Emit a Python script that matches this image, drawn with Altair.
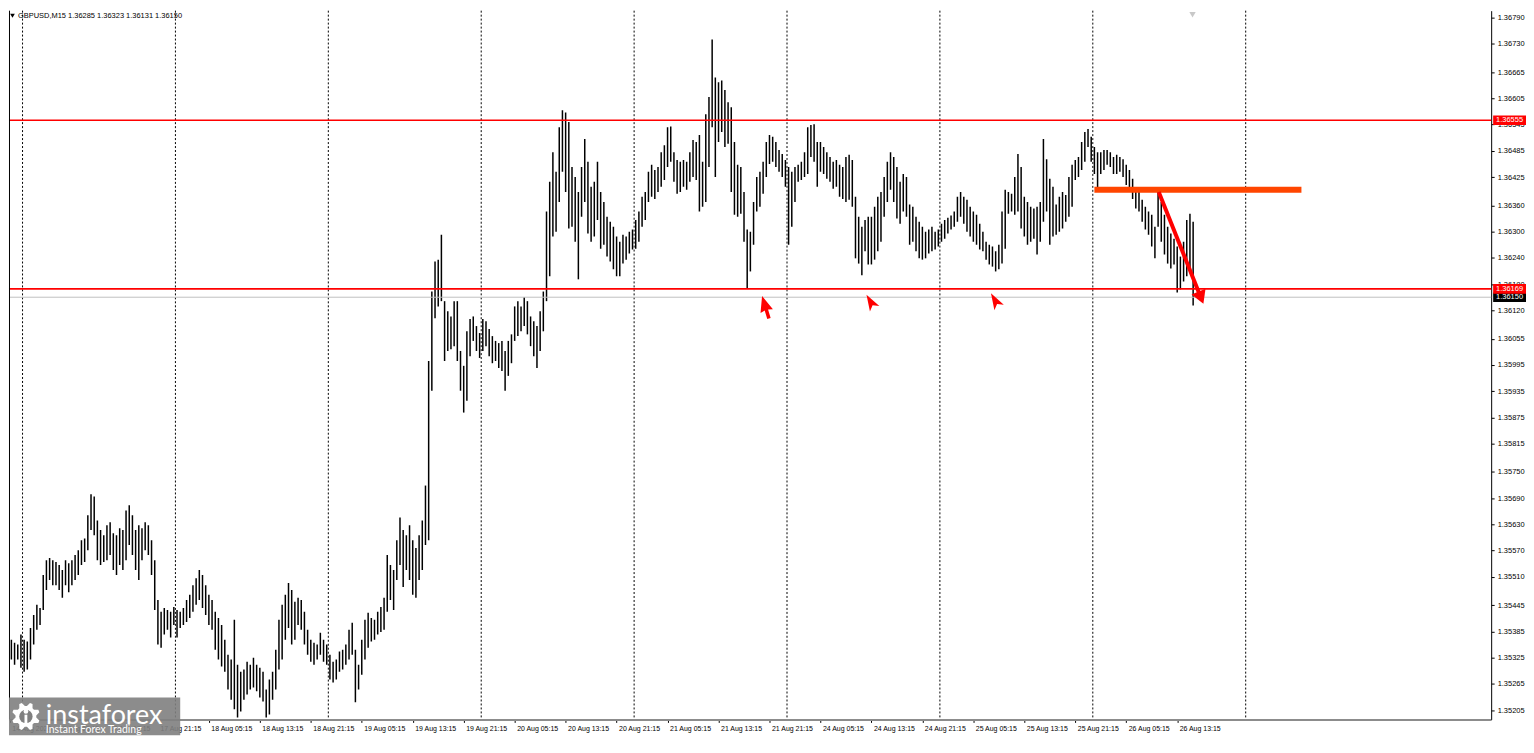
import json
import math

import pandas as pd
import altair as alt

# GBPUSD M15 chart: highs and lows,
# one drawn bar for every second M15 bar (30 minutes)
bar_high = [
    # 14 Aug 21:15 -> 17 Aug 05:15
    1.35348, 1.35355, 1.35366, 1.35359, 1.35355, 1.35378, 1.35366, 1.35362, 1.35393, 1.35423, 1.35446, 1.35439, 1.35514, 1.35548, 1.35553, 1.35548,
    1.35544, 1.35537, 1.35526, 1.35548, 1.35541, 1.35548, 1.35560, 1.35571, 1.35594, 1.35598, 1.35651, 1.35699, 1.35694, 1.35639, 1.35617, 1.35605,
    1.35628, 1.35635, 1.35610, 1.35605, 1.35621, 1.35617, 1.35662, 1.35674, 1.35651, 1.35617, 1.35628, 1.35621, 1.35635, 1.35628, 1.35594, 1.35548,
    # 18 Aug
    1.35457, 1.35430, 1.35439, 1.35434, 1.35430, 1.35441, 1.35434, 1.35430, 1.35439, 1.35457, 1.35469, 1.35491, 1.35507, 1.35526, 1.35514, 1.35491,
    1.35469, 1.35457, 1.35430, 1.35416, 1.35400, 1.35366, 1.35332, 1.35321, 1.35412, 1.35309, 1.35293, 1.35298, 1.35316, 1.35309, 1.35325, 1.35309,
    1.35302, 1.35293, 1.35252, 1.35275, 1.35293, 1.35343, 1.35412, 1.35446, 1.35469, 1.35496, 1.35480, 1.35453, 1.35462, 1.35457, 1.35430, 1.35389,
    # 19 Aug
    1.35366, 1.35359, 1.35355, 1.35382, 1.35366, 1.35355, 1.35332, 1.35316, 1.35321, 1.35339, 1.35343, 1.35355, 1.35389, 1.35405, 1.35343, 1.35309,
    1.35366, 1.35412, 1.35428, 1.35416, 1.35412, 1.35430, 1.35441, 1.35462, 1.35560, 1.35537, 1.35526, 1.35594, 1.35646, 1.35617, 1.35605, 1.35628,
    1.35594, 1.35576, 1.35605, 1.35639, 1.35719, 1.36004, 1.36163, 1.36232, 1.36236, 1.36293, 1.36141, 1.36118, 1.36106, 1.36141, 1.36141, 1.36027,
    # 20 Aug
    1.35993, 1.36072, 1.36100, 1.36106, 1.36084, 1.36068, 1.36100, 1.36095, 1.36077, 1.36061, 1.36050, 1.36045, 1.36050, 1.36027, 1.36050, 1.36065,
    1.36129, 1.36141, 1.36129, 1.36150, 1.36141, 1.36106, 1.36095, 1.36084, 1.36118, 1.36163, 1.36346, 1.36414, 1.36482, 1.36437, 1.36539, 1.36578,
    1.36573, 1.36551, 1.36448, 1.36425, 1.36391, 1.36448, 1.36512, 1.36460, 1.36403, 1.36414, 1.36460, 1.36391, 1.36368, 1.36334, 1.36323, 1.36311,
    # 21 Aug
    1.36289, 1.36277, 1.36293, 1.36289, 1.36300, 1.36305, 1.36327, 1.36346, 1.36380, 1.36391, 1.36437, 1.36453, 1.36441, 1.36448, 1.36482, 1.36498,
    1.36539, 1.36541, 1.36482, 1.36464, 1.36460, 1.36464, 1.36460, 1.36482, 1.36510, 1.36505, 1.36521, 1.36460, 1.36569, 1.36608, 1.36740, 1.36653,
    1.36642, 1.36646, 1.36624, 1.36596, 1.36585, 1.36505, 1.36453, 1.36448, 1.36391, 1.36305, 1.36300, 1.36368, 1.36425, 1.36437, 1.36460, 1.36505,
    # 24 Aug
    1.36521, 1.36517, 1.36505, 1.36487, 1.36478, 1.36464, 1.36448, 1.36437, 1.36448, 1.36453, 1.36460, 1.36482, 1.36539, 1.36544, 1.36546, 1.36505,
    1.36505, 1.36494, 1.36482, 1.36471, 1.36460, 1.36464, 1.36453, 1.36448, 1.36471, 1.36476, 1.36464, 1.36380, 1.36334, 1.36311, 1.36327, 1.36334,
    1.36334, 1.36357, 1.36380, 1.36391, 1.36425, 1.36460, 1.36482, 1.36471, 1.36448, 1.36414, 1.36432, 1.36425, 1.36362, 1.36357, 1.36334, 1.36323,
    # 25 Aug
    1.36311, 1.36300, 1.36305, 1.36311, 1.36300, 1.36305, 1.36318, 1.36327, 1.36332, 1.36337, 1.36346, 1.36380, 1.36391, 1.36380, 1.36373, 1.36357,
    1.36346, 1.36339, 1.36318, 1.36300, 1.36277, 1.36270, 1.36266, 1.36255, 1.36270, 1.36346, 1.36396, 1.36391, 1.36387, 1.36425, 1.36478, 1.36448,
    1.36380, 1.36368, 1.36357, 1.36353, 1.36357, 1.36368, 1.36512, 1.36466, 1.36421, 1.36403, 1.36362, 1.36380, 1.36391, 1.36384, 1.36425, 1.36453,
    # 26 Aug
    1.36464, 1.36471, 1.36505, 1.36528, 1.36535, 1.36517, 1.36494, 1.36482, 1.36482, 1.36487, 1.36487, 1.36482, 1.36471, 1.36476, 1.36471, 1.36466,
    1.36453, 1.36441, 1.36421, 1.36398, 1.36391, 1.36373, 1.36357, 1.36346, 1.36339, 1.36311, 1.36391, 1.36368, 1.36339, 1.36311, 1.36296, 1.36284,
    1.36266, 1.36243, 1.36277, 1.36327, 1.36341, 1.36323,
]
bar_low = [
    1.35286, 1.35316, 1.35321, 1.35309, 1.35321, 1.35302, 1.35293, 1.35298, 1.35321, 1.35355, 1.35389, 1.35400, 1.35434, 1.35480, 1.35503, 1.35491,
    1.35491, 1.35480, 1.35462, 1.35491, 1.35475, 1.35491, 1.35503, 1.35514, 1.35537, 1.35544, 1.35571, 1.35617, 1.35605, 1.35548, 1.35537, 1.35544,
    1.35548, 1.35560, 1.35526, 1.35514, 1.35537, 1.35526, 1.35548, 1.35583, 1.35560, 1.35526, 1.35503, 1.35548, 1.35571, 1.35560, 1.35514, 1.35434,
    1.35355, 1.35348, 1.35378, 1.35389, 1.35371, 1.35400, 1.35371, 1.35393, 1.35400, 1.35407, 1.35416, 1.35430, 1.35446, 1.35457, 1.35439, 1.35423,
    1.35400, 1.35389, 1.35343, 1.35321, 1.35305, 1.35293, 1.35252, 1.35229, 1.35207, 1.35188, 1.35202, 1.35229, 1.35241, 1.35252, 1.35257, 1.35248,
    1.35234, 1.35225, 1.35188, 1.35195, 1.35229, 1.35252, 1.35298, 1.35321, 1.35366, 1.35393, 1.35355, 1.35366, 1.35400, 1.35389, 1.35355, 1.35332,
    1.35316, 1.35309, 1.35321, 1.35332, 1.35316, 1.35309, 1.35275, 1.35268, 1.35275, 1.35293, 1.35298, 1.35309, 1.35321, 1.35332, 1.35223, 1.35252,
    1.35286, 1.35321, 1.35348, 1.35362, 1.35366, 1.35378, 1.35384, 1.35389, 1.35430, 1.35457, 1.35434, 1.35503, 1.35537, 1.35487, 1.35526, 1.35503,
    1.35469, 1.35462, 1.35503, 1.35526, 1.35583, 1.35594, 1.35936, 1.36102, 1.36129, 1.36141, 1.36004, 1.36027, 1.36031, 1.36038, 1.36004, 1.35936,
    1.35886, 1.35913, 1.36015, 1.36050, 1.36027, 1.36011, 1.36027, 1.36038, 1.36015, 1.35999, 1.36004, 1.35988, 1.35981, 1.35936, 1.35970, 1.35999,
    1.36050, 1.36061, 1.36072, 1.36084, 1.36065, 1.36038, 1.36015, 1.35988, 1.36027, 1.36072, 1.36141, 1.36198, 1.36289, 1.36300, 1.36368, 1.36437,
    1.36391, 1.36307, 1.36311, 1.36277, 1.36191, 1.36334, 1.36368, 1.36296, 1.36277, 1.36289, 1.36327, 1.36261, 1.36270, 1.36243, 1.36232, 1.36214,
    1.36198, 1.36198, 1.36227, 1.36236, 1.36250, 1.36259, 1.36261, 1.36277, 1.36311, 1.36327, 1.36368, 1.36380, 1.36375, 1.36391, 1.36403, 1.36418,
    1.36448, 1.36460, 1.36414, 1.36387, 1.36391, 1.36403, 1.36396, 1.36414, 1.36425, 1.36418, 1.36346, 1.36357, 1.36368, 1.36448, 1.36539, 1.36425,
    1.36505, 1.36528, 1.36494, 1.36501, 1.36391, 1.36339, 1.36334, 1.36341, 1.36277, 1.36170, 1.36209, 1.36270, 1.36346, 1.36357, 1.36387, 1.36425,
    1.36455, 1.36460, 1.36448, 1.36437, 1.36425, 1.36403, 1.36270, 1.36311, 1.36368, 1.36414, 1.36418, 1.36425, 1.36432, 1.36471, 1.36460, 1.36403,
    1.36437, 1.36432, 1.36421, 1.36414, 1.36398, 1.36403, 1.36380, 1.36375, 1.36368, 1.36373, 1.36357, 1.36239, 1.36227, 1.36200, 1.36255, 1.36225,
    1.36225, 1.36236, 1.36255, 1.36277, 1.36334, 1.36368, 1.36396, 1.36368, 1.36330, 1.36318, 1.36346, 1.36334, 1.36270, 1.36277, 1.36255, 1.36239,
    1.36236, 1.36239, 1.36250, 1.36255, 1.36259, 1.36266, 1.36277, 1.36284, 1.36296, 1.36305, 1.36311, 1.36323, 1.36334, 1.36318, 1.36300, 1.36289,
    1.36277, 1.36270, 1.36259, 1.36255, 1.36236, 1.36225, 1.36220, 1.36209, 1.36214, 1.36227, 1.36261, 1.36341, 1.36346, 1.36339, 1.36346, 1.36307,
    1.36289, 1.36270, 1.36277, 1.36284, 1.36248, 1.36277, 1.36323, 1.36346, 1.36270, 1.36289, 1.36293, 1.36300, 1.36307, 1.36323, 1.36334, 1.36357,
    1.36418, 1.36425, 1.36441, 1.36460, 1.36494, 1.36460, 1.36432, 1.36391, 1.36432, 1.36441, 1.36453, 1.36448, 1.36432, 1.36432, 1.36437, 1.36425,
    1.36407, 1.36396, 1.36375, 1.36353, 1.36346, 1.36323, 1.36305, 1.36293, 1.36266, 1.36239, 1.36311, 1.36277, 1.36248, 1.36227, 1.36216, 1.36225,
    1.36161, 1.36168, 1.36186, 1.36198, 1.36209, 1.36131,
]

symbol = "GBPUSD,M15"
last_ohlc = [1.36285, 1.36323, 1.36131, 1.36150]

# price axis labels as printed by the terminal
y_ticks = [1.36790, 1.36730, 1.36665, 1.36605, 1.36545, 1.36485, 1.36425, 1.36360,
           1.36300, 1.36240, 1.36180, 1.36120, 1.36055, 1.35995, 1.35935, 1.35875,
           1.35815, 1.35750, 1.35690, 1.35630, 1.35570, 1.35510, 1.35445, 1.35385,
           1.35325, 1.35265, 1.35205, 1.35145]

# time axis: a label every 32 M15 bars
x_tick_labels = ["14 Aug 2020", "17 Aug 05:15", "17 Aug 13:15", "17 Aug 21:15",
                 "18 Aug 05:15", "18 Aug 13:15", "18 Aug 21:15", "19 Aug 05:15",
                 "19 Aug 13:15", "19 Aug 21:15", "20 Aug 05:15", "20 Aug 13:15",
                 "20 Aug 21:15", "21 Aug 05:15", "21 Aug 13:15", "21 Aug 21:15",
                 "24 Aug 05:15", "24 Aug 13:15", "24 Aug 21:15", "25 Aug 05:15",
                 "25 Aug 13:15", "25 Aug 21:15", "26 Aug 05:15", "26 Aug 13:15"]
x_tick_bars = [3] + [32 * i for i in range(1, len(x_tick_labels))]

# day separators (bar number of 00:00)
day_names = ["17 Aug", "18 Aug", "19 Aug", "20 Aug", "21 Aug", "24 Aug", "25 Aug", "26 Aug", "27 Aug"]
day_bars = [11, 107, 203, 299, 395, 491, 587, 683, 779]

# levels and drawings
resistance = 1.36555
support = 1.36169
bid = 1.36150
broken_level = 1.36396
broken_from, broken_to = 684, 814
arrow_from = (724.4, 1.36391)
arrow_to = (750.9, 1.36149)
touch_bars = [477.5, 543.75, 621.9]
touch_prices = [1.36127, 1.36138, 1.36141]

W, H = 1489, 712
FONT = "Liberation Sans"

x_scale = alt.Scale(domain=[2.5, 933.125], nice=False, zero=False)
y_scale = alt.Scale(domain=[1.351838, 1.368058], nice=False, zero=False)
lo, hi = y_scale.domain

x_axis = alt.Axis(values=x_tick_bars, labelExpr=f"{json.dumps(x_tick_labels)}[round(datum.value / 32)]",
                  labelAlign="left", labelOffset=2, labelPadding=2, tickSize=3, tickColor="#000000",
                  labelFont=FONT, labelFontSize=7, labelColor="#000000", domainColor="#8c8c8c",
                  domainWidth=2, grid=False, labelOverlap=False, labelFlush=False, title=None)
y_axis = alt.Axis(orient="right", values=[v for v in y_ticks if lo <= v <= hi], format=".5f",
                  tickSize=3, tickColor="#000000", labelPadding=3, labelFont=FONT, labelFontSize=7.5,
                  labelColor="#000000", domainColor="#000000", grid=False, labelOverlap=False,
                  labelFlush=False, title=None)


def X(field, **kw):
    return alt.X(field, scale=x_scale, axis=x_axis, **kw)


def Y(field, **kw):
    return alt.Y(field, scale=y_scale, axis=y_axis, **kw)


bars = pd.DataFrame({"bar": [2 * k for k in range(len(bar_high))], "high": bar_high, "low": bar_low})
days = pd.DataFrame({"bar": day_bars, "day": day_names})
one = pd.DataFrame({"a": [0]})

separators = alt.Chart(days).mark_rule(color="#000000", strokeWidth=1, strokeDash=[2, 2]).encode(x=X("bar:Q"))

ohlc_bars = alt.Chart(bars).mark_rule(color="#000000", strokeWidth=1.5, clip=True).encode(
    x=X("bar:Q"), y=Y("high:Q"), y2="low:Q"
)

bid_line = alt.Chart(pd.DataFrame({"p": [bid]})).mark_rule(color="#c0c0c0", strokeWidth=1).encode(y=Y("p:Q"))
red_lines = alt.Chart(pd.DataFrame({"p": [resistance, support]})).mark_rule(
    color="#ff0000", strokeWidth=1.6).encode(y=Y("p:Q"))

broken = alt.Chart(pd.DataFrame({"x1": [broken_from], "x2": [broken_to], "p": [broken_level]})).mark_rule(
    color="#ff4500", strokeWidth=6).encode(x=X("x1:Q"), x2="x2:Q", y=Y("p:Q"))

arrow_df = pd.DataFrame({"x1": [arrow_from[0]], "x2": [arrow_to[0]], "p1": [arrow_from[1]], "p2": [arrow_to[1]]})
shaft = alt.Chart(arrow_df).mark_rule(color="#ff0000", strokeWidth=4).encode(
    x=X("x1:Q"), x2="x2:Q", y=Y("p1:Q"), y2="p2:Q")
head = alt.Chart(arrow_df).mark_point(shape="triangle-up", filled=True, color="#ff0000", opacity=1,
                                      size=230, angle=158).encode(x=X("x2:Q"), y=Y("p2:Q"))

touches = pd.DataFrame({"bar": touch_bars, "p": touch_prices})
cursor = alt.Chart(touches.iloc[:1]).mark_point(
    shape="M0,-1L0.55,0.35L0.15,0.25L0.15,1L-0.15,1L-0.15,0.25L-0.55,0.35Z",
    filled=True, color="#ff0000", opacity=1, size=560, angle=343).encode(x=X("bar:Q"), y=Y("p:Q"))
pointers = alt.Chart(touches.iloc[1:]).mark_point(
    shape="M0,-1L0.6,0.8L0,0.35L-0.6,0.8Z",
    filled=True, color="#ff0000", opacity=1, size=330, angle=330).encode(x=X("bar:Q"), y=Y("p:Q"))

# price tags on the right scale
def tag(price, fill):
    df = pd.DataFrame({"p": [price], "top": [price + 0.00011], "bottom": [price - 0.00011],
                       "label": [f"{price:.5f}"]})
    box = alt.Chart(df).mark_rect(color=fill).encode(
        x=alt.value(W + 2), x2=alt.value(W + 35), y=Y("top:Q"), y2="bottom:Q")
    txt = alt.Chart(df).mark_text(color="#ffffff", font=FONT, fontSize=7.5, align="center",
                                  baseline="middle").encode(
        x=alt.value(W + 18.5), y=Y("p:Q"), text="label:N")
    return box + txt


tags = tag(resistance, "#ff0000") + tag(bid, "#000000") + tag(support, "#ff0000")

# header line
header_text = symbol + "  " + " ".join(f"{v:.5f}" for v in last_ohlc)
header_mark = alt.Chart(one).mark_point(shape="triangle-down", filled=True, color="#000000", opacity=1,
                                        size=22).encode(x=alt.value(3.5), y=alt.value(5))
header = alt.Chart(one).mark_text(text=header_text, font=FONT, fontSize=7.5, color="#000000",
                                  align="left", baseline="top").encode(x=alt.value(9), y=alt.value(1))
shift_mark = alt.Chart(one).mark_point(shape="triangle-down", filled=True, color="#c8c8c8", opacity=1,
                                       size=40).encode(x=alt.value(1189), y=alt.value(4))
left_edge = alt.Chart(one).mark_rule(color="#000000", strokeWidth=1).encode(
    x=alt.value(0.5), y=alt.value(0), y2=alt.value(H))

# watermark in the corner
teeth = 8
pts = []
for i in range(teeth * 4):
    a = 2 * math.pi * (i + 0.5) / (teeth * 4)
    r = 1.0 if i % 4 in (1, 2) else 0.74
    pts.append(f"{r * math.cos(a):.3f},{r * math.sin(a):.3f}")
gear_path = "M" + "L".join(pts) + "Z"

logo_box = alt.Chart(one).mark_rect(color="#808080", opacity=0.9).encode(
    x=alt.value(0), x2=alt.value(172), y=alt.value(690), y2=alt.value(728))
gear = alt.Chart(one).mark_point(shape=gear_path, filled=True, color="#ffffff", opacity=1, size=800).encode(
    x=alt.value(17), y=alt.value(709))
gear_hole = alt.Chart(one).mark_point(shape="circle", filled=True, color="#808080", opacity=1, size=180).encode(
    x=alt.value(17), y=alt.value(709))
gear_head = alt.Chart(one).mark_point(shape="circle", filled=True, color="#ffffff", opacity=1, size=22).encode(
    x=alt.value(17), y=alt.value(704))
gear_body = alt.Chart(one).mark_point(shape="M-0.3,-1H0.3V1H-0.3Z", filled=True, color="#ffffff", opacity=1,
                                      size=90).encode(x=alt.value(17), y=alt.value(712))
logo_word = alt.Chart(one).mark_text(text="instaforex", font="Lato", fontSize=27, color="#ffffff",
                                     align="left", baseline="alphabetic").encode(x=alt.value(37), y=alt.value(717))
logo_tag = alt.Chart(one).mark_text(text="Instant Forex Trading", font="Lato", fontSize=10.5, color="#ffffff",
                                    align="left", baseline="alphabetic").encode(x=alt.value(37), y=alt.value(726))

chart = alt.layer(
    separators, ohlc_bars, bid_line, red_lines, broken, shaft, head, cursor, pointers,
    tags, header_mark, header, shift_mark, left_edge,
    logo_box, gear, gear_hole, gear_head, gear_body, logo_word, logo_tag,
).properties(
    width=W, height=H, padding=0, background="#ffffff"
).configure_view(stroke=None)

chart.save("out.html", embed_options={"renderer": "svg", "actions": False})
